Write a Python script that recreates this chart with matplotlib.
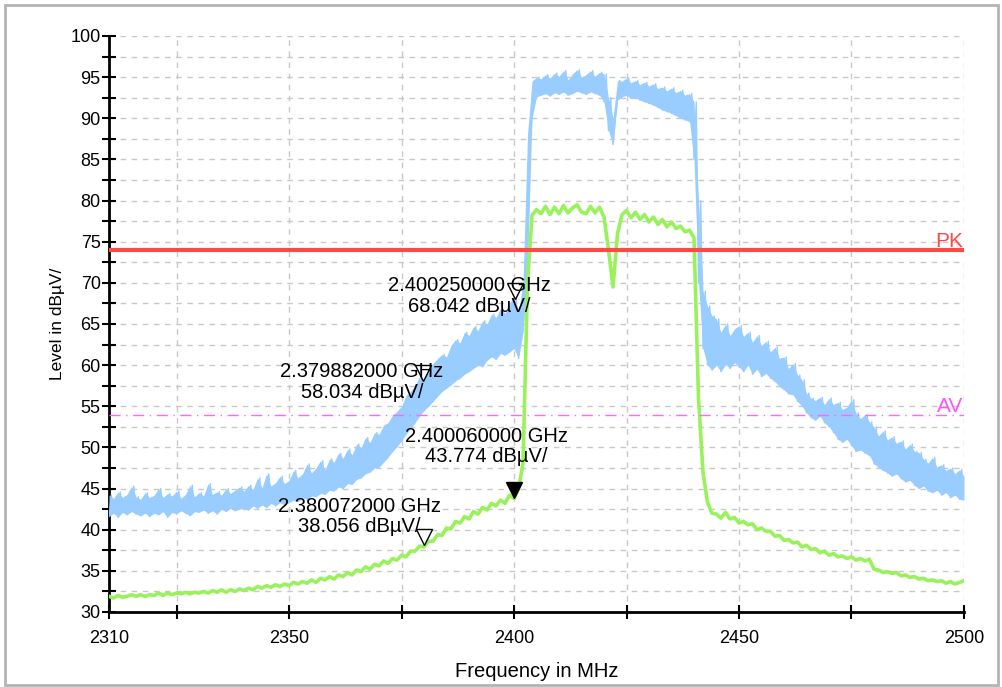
import matplotlib.pyplot as plt
from matplotlib.patches import Rectangle

plt.rcParams['font.family'] = ['Liberation Sans', 'DejaVu Sans']

# frequency grid, 1 MHz steps
freq = list(range(2310, 2501))

# peak trace (light blue): upper and lower edge of the noise band
blue_hi = [
    44.2, 43.8, 44.6, 43.9, 44.3, 45.3, 44.0, 43.7, 44.5, 43.9,
    44.2, 45.0, 43.9, 44.4, 44.1, 44.7, 43.8, 44.3, 45.4, 44.0,
    44.5, 44.1, 45.6, 44.3, 44.6, 44.2, 45.0, 44.4, 44.8, 45.2,
    44.7, 45.4, 44.9, 46.3, 45.1, 46.8, 45.3, 45.7, 46.5, 45.6,
    46.0, 47.2, 46.3, 46.8, 48.0, 46.9, 47.5, 48.4, 47.3, 48.6,
    48.2, 49.3, 48.7, 49.8, 49.1, 50.4, 50.0, 51.2, 50.6, 51.8,
    51.6, 52.7, 53.0, 53.9, 54.4, 55.0, 56.3, 56.8, 57.5, 58.6,
    59.3, 59.0, 60.2, 60.8, 61.3, 61.0, 62.4, 63.1, 62.7, 64.0,
    63.6, 64.7, 64.2, 65.4, 65.0, 66.2, 65.8, 66.9, 66.3, 67.5,
    68.3, 66.5, 70.0, 88.0, 94.5, 95.0, 94.8, 95.3, 94.9, 95.5,
    95.1, 95.8, 94.7, 95.4, 95.9, 95.0, 95.3, 95.8, 95.1, 95.6,
    95.4, 92.5, 90.0, 94.6, 94.5, 94.9, 94.3, 94.6, 94.1, 94.4,
    93.9, 94.2, 93.6, 93.8, 93.3, 93.7, 93.1, 93.4, 92.8, 93.0,
    92.0, 80.0, 69.0, 67.2, 66.0, 65.6, 64.0, 65.0, 63.6, 64.4,
    64.8, 63.5, 64.0, 62.8, 63.6, 62.4, 62.9, 61.6, 62.2, 60.8,
    61.0, 59.6, 60.2, 58.8, 58.2, 56.6, 56.0, 55.7, 56.1, 55.2,
    56.0, 55.2, 55.5, 54.6, 54.9, 55.8, 54.2, 53.5, 54.0, 53.1,
    52.5, 51.4, 52.0, 50.9, 51.3, 50.5, 50.8, 49.8, 50.4, 49.5,
    49.4, 48.6, 48.1, 48.8, 47.6, 47.9, 47.2, 47.5, 46.8, 47.3,
    46.5,
]
blue_lo = [
    41.6, 42.0, 41.5, 42.1, 41.8, 42.2, 41.9, 41.7, 42.0, 41.6,
    42.0, 41.8, 42.2, 41.5, 42.1, 41.9, 42.3, 42.0, 41.7, 42.2,
    42.1, 42.4, 42.0, 42.3, 41.9, 42.5, 42.2, 42.6, 42.3, 42.5,
    42.6, 42.4, 42.9, 42.6, 43.0, 42.7, 43.2, 42.9, 43.3, 43.0,
    43.3, 43.6, 43.4, 43.9, 43.7, 44.1, 44.0, 44.4, 44.3, 44.8,
    44.7, 45.2, 45.0, 45.6, 45.5, 46.1, 46.3, 46.8, 47.0, 47.5,
    47.6, 48.2, 48.8, 49.5, 50.1, 50.8, 51.6, 52.3, 53.0, 53.8,
    54.5, 55.0, 55.6, 56.2, 56.8, 57.2, 57.6, 58.1, 58.4, 58.9,
    59.2, 59.6, 60.0, 59.8, 60.6, 61.0, 60.7, 61.4, 61.2, 61.6,
    62.0, 60.8, 64.0, 72.0, 90.0, 92.6, 92.8, 93.0, 92.7, 93.1,
    92.9, 93.2, 92.8, 93.0, 93.3, 93.1, 92.9, 93.2, 93.0, 92.8,
    92.0, 88.5, 86.8, 92.2, 92.6, 92.8, 92.4, 92.5, 92.2, 92.0,
    91.8, 91.6, 91.3, 91.0, 90.8, 90.6, 90.3, 90.0, 89.8, 89.6,
    85.0, 70.0, 62.0, 60.0, 59.4, 60.0, 59.2, 60.1, 59.6, 60.3,
    59.8, 59.2, 60.0, 58.9, 59.5, 58.6, 59.0, 58.4, 58.0, 57.4,
    57.0, 56.5, 56.4, 55.6, 55.0, 54.2, 53.6, 53.3, 53.8, 53.0,
    52.5, 51.8, 51.0, 50.6, 51.0, 50.2, 49.5, 49.7, 49.3, 49.0,
    48.0, 47.6, 47.2, 46.9, 46.5, 46.8, 46.2, 45.8, 46.0, 45.4,
    45.0, 45.3, 44.7, 44.5, 44.8, 44.2, 44.5, 43.9, 44.2, 43.7,
    43.6,
]

# average trace (light green)
green = [
    31.9, 31.7, 32.0, 31.8, 31.9, 32.1, 31.9, 32.1, 31.9, 32.1,
    32.0, 32.3, 32.0, 32.3, 32.1, 32.3, 32.2, 32.4, 32.2, 32.4,
    32.3, 32.5, 32.3, 32.6, 32.4, 32.7, 32.4, 32.7, 32.5, 32.8,
    32.6, 32.9, 32.7, 33.1, 32.9, 33.2, 33.0, 33.3, 33.1, 33.4,
    33.2, 33.6, 33.4, 33.7, 33.5, 33.9, 33.6, 34.1, 33.9, 34.3,
    34.0, 34.5, 34.3, 34.8, 34.5, 35.1, 34.9, 35.5, 35.2, 35.8,
    35.6, 36.2, 35.9, 36.5, 36.3, 36.9, 36.7, 37.4, 37.4, 38.0,
    37.9, 38.6, 38.6, 39.4, 39.3, 40.2, 40.1, 41.0, 40.8, 41.6,
    41.3, 42.2, 41.9, 42.7, 42.4, 43.2, 42.9, 43.6, 43.2, 44.2,
    43.8, 45.0, 48.0, 70.0, 78.2, 78.9, 78.4, 79.3, 78.3, 79.2,
    78.4, 79.4, 78.5, 79.1, 79.5, 78.6, 78.4, 79.3, 78.5, 79.2,
    78.0, 74.0, 69.5, 76.0, 78.3, 78.8, 77.9, 78.6, 77.7, 78.3,
    77.4, 78.0, 77.1, 77.7, 76.8, 77.4, 76.6, 76.9, 76.2, 76.4,
    75.5, 56.0, 47.0, 43.3, 42.0, 41.9, 41.4, 42.1, 41.3, 41.5,
    40.8, 41.0, 40.6, 40.7, 40.0, 40.2, 39.8, 39.8, 39.2, 39.3,
    38.7, 38.8, 38.4, 38.5, 37.9, 38.1, 37.6, 37.7, 37.2, 37.4,
    36.9, 37.1, 36.7, 36.8, 36.5, 36.7, 36.3, 36.5, 36.2, 36.4,
    35.2, 35.1, 34.8, 34.9, 34.7, 34.8, 34.4, 34.5, 34.2, 34.3,
    34.0, 34.1, 33.8, 33.9, 33.7, 33.8, 33.5, 33.7, 33.4, 33.6,
    33.8,
]

# limit lines
pk_limit = 74
av_limit = 54

# markers: (frequency MHz, level, label, filled)
markers = [
    (2400.25, 68.042, '2.400250000 GHz\n68.042 dBµV/', False),
    (2379.882, 58.034, '2.379882000 GHz\n58.034 dBµV/', False),
    (2400.06, 43.774, '2.400060000 GHz\n43.774 dBµV/', True),
    (2380.072, 38.056, '2.380072000 GHz\n38.056 dBµV/', False),
]
label_pos = [(2390.0, 68.4), (2366.2, 57.95), (2393.8, 50.1), (2365.6, 41.6)]

fig = plt.figure(figsize=(10.03, 6.87), dpi=100)
ax = fig.add_axes([0.1087, 0.1092, 0.8524, 0.8384])
fig.patches.append(Rectangle((0.005, 0.003), 0.99, 0.989, transform=fig.transFigure,
                             fill=False, edgecolor='#b4b4b4', linewidth=2))

# noise band of the peak trace: filled band plus a zigzag through it
ax.fill_between(freq, blue_lo, blue_hi, color='#99ccff', linewidth=0, zorder=3)
zx, zy = [], []
for f, lo, hi in zip(freq, blue_lo, blue_hi):
    zx += [f, f + 0.5]
    zy += [lo, hi]
zx, zy = zx[:-1], zy[:-1]
ax.plot(zx, zy, color='#99ccff', linewidth=1.0, zorder=3)
ax.plot(freq, green, color='#99f25c', linewidth=2.6, zorder=4)

ax.axhline(pk_limit, color='#ff4848', linewidth=3, zorder=5)
ax.axhline(av_limit, color='#ff66ff', linewidth=1, linestyle=(0, (8, 4, 1, 4)), zorder=5)
ax.text(2499.8, pk_limit + 0.3, 'PK', color='#ff4848', fontsize=15, ha='right', va='baseline')
ax.text(2499.8, av_limit + 0.3, 'AV', color='#ff55ff', fontsize=15, ha='right', va='baseline')

for (f, v, txt, filled), (tx, ty) in zip(markers, label_pos):
    ax.plot(f, v + 1.0, marker='v', markersize=12 if filled else 11,
            markerfacecolor='black' if filled else 'white',
            markeredgecolor='black', linestyle='none', zorder=7)
    ax.text(tx, ty, txt, fontsize=14.5, ha='center', va='center', linespacing=1.1, zorder=8)

ax.set_xlim(2310, 2500)
ax.set_ylim(30, 100)
ax.set_xticks([2310, 2350, 2400, 2450, 2500])
ax.set_xticks([2325, 2375, 2425, 2475], minor=True)
ax.set_yticks(range(30, 101, 5))
ax.set_yticks([y + 2.5 for y in range(30, 100, 5)], minor=True)
ax.tick_params(which='both', direction='inout', length=10, width=1.5, color='black',
               labelsize=13)
ax.tick_params(axis='x', which='both', pad=8)
ax.tick_params(axis='y', which='both', pad=1)
for s in ['top', 'right']:
    ax.spines[s].set_visible(False)
for s in ['left', 'bottom']:
    ax.spines[s].set_linewidth(2)

for gx in [2325, 2350, 2375, 2400, 2425, 2450, 2475, 2500]:
    ax.axvline(gx, color='#c8c8c8', linewidth=1, linestyle=(0, (4, 4)), zorder=1)
for gy in range(0, 29):
    ax.axhline(32.5 + gy * 2.5, color='#c8c8c8', linewidth=1, linestyle=(0, (4, 4)), zorder=1)

ax.set_xlabel('Frequency in MHz', fontsize=14.5, labelpad=11)
ax.set_ylabel('Level in dBµV/', fontsize=12.5, labelpad=4)

fig.savefig('out.png', dpi=100)
